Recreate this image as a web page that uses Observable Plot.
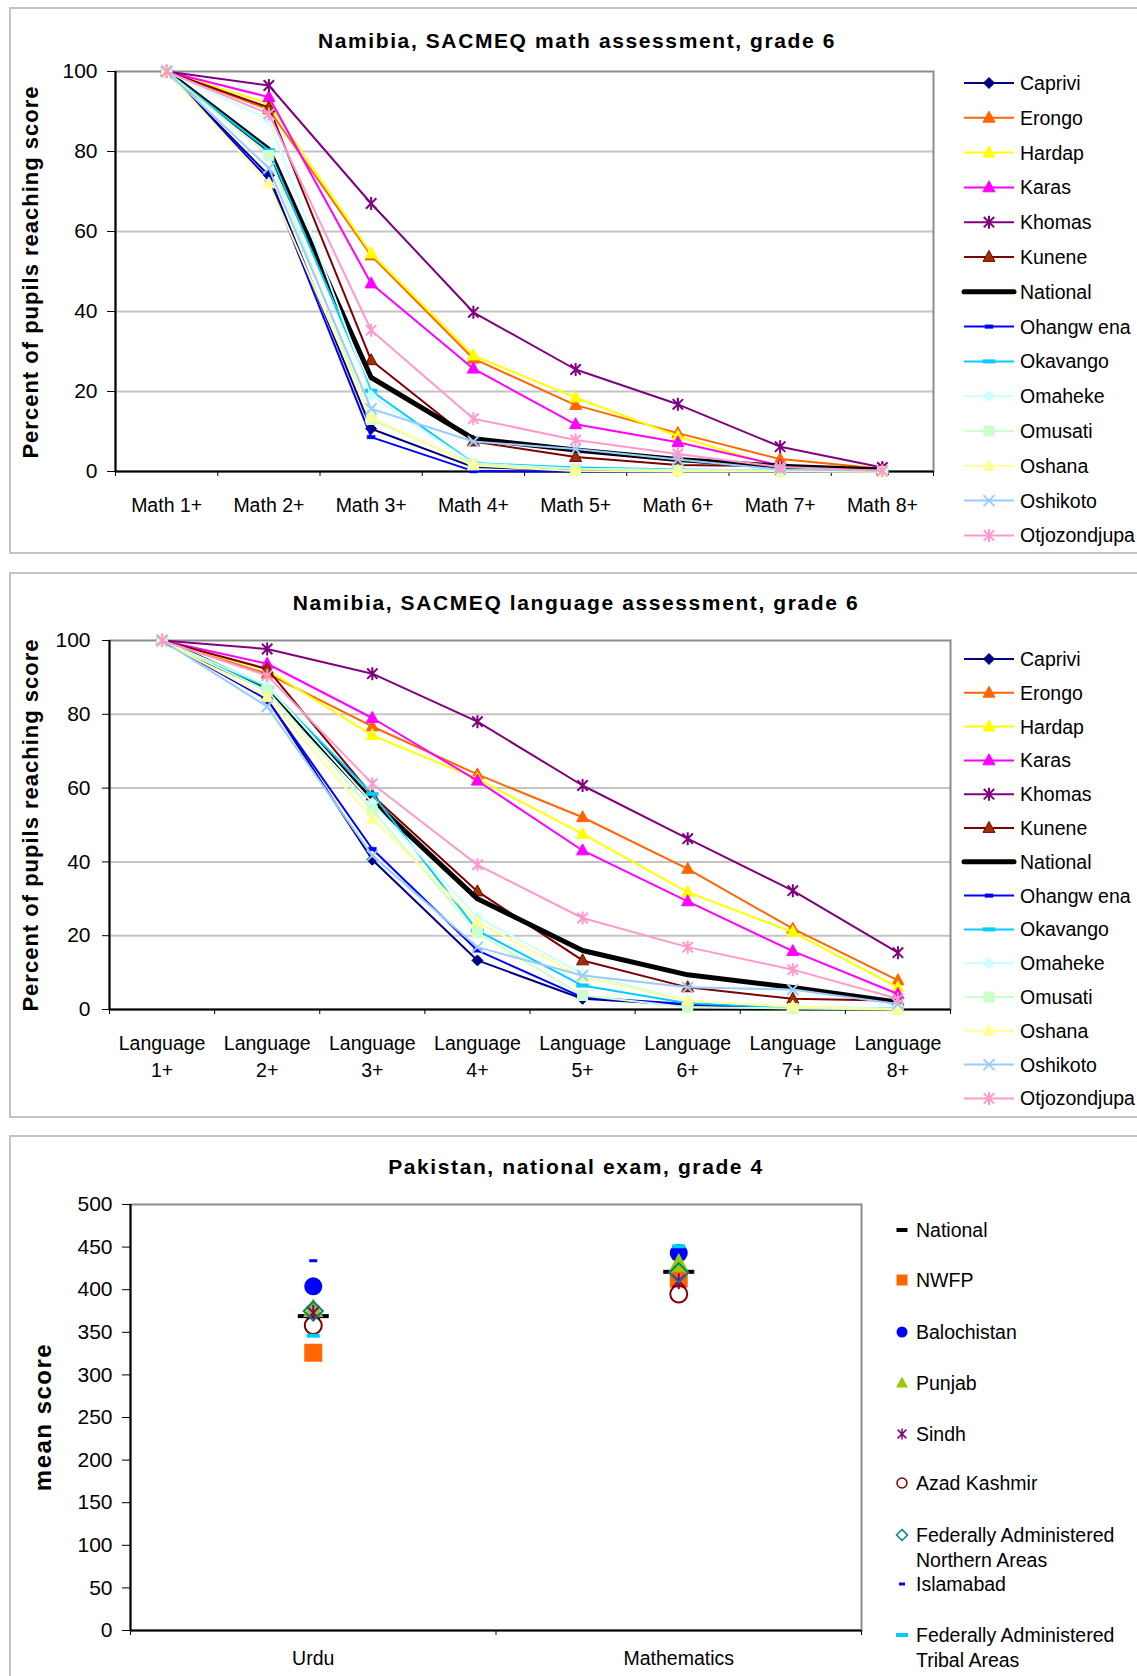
<!DOCTYPE html>
<html>
<head>
<meta charset="utf-8">
<script src="https://cdn.jsdelivr.net/npm/d3@7"></script>
<script src="https://cdn.jsdelivr.net/npm/@observablehq/plot@0.6"></script>
<style>
  html, body { margin: 0; padding: 0; background: #fff; }
  #page { position: relative; width: 1137px; height: 1676px; overflow: hidden; font-family: "Liberation Sans", Arial, sans-serif; color: #000; }
  .panel { position: absolute; box-sizing: border-box; border: 2px solid #c4c4c4; background: #fff; }
  .title { position: absolute; transform: translate(-50%, -50%); font-weight: bold; font-size: 21px; letter-spacing: 1.6px; white-space: nowrap; }
  .ylabel { position: absolute; transform: translate(-50%, -50%) rotate(-90deg); font-weight: bold; font-size: 22px; letter-spacing: 1px; white-space: nowrap; z-index: 5; }
  .plotbox { position: absolute; left: 0; }
  .plotbox svg { max-width: none !important; display: block; }
</style>
</head>
<body>
<div id="page">
  <div class="panel" style="left:9px;top:7px;width:1200px;height:547px"></div>
  <div class="panel" style="left:9px;top:572px;width:1200px;height:546px"></div>
  <div class="panel" style="left:9px;top:1135px;width:1200px;height:600px"></div>
  <div class="title" style="left:577px;top:41px">Namibia, SACMEQ math assessment, grade 6</div>
  <div class="title" style="left:576px;top:603px">Namibia, SACMEQ language assessment, grade 6</div>
  <div class="title" style="left:576px;top:1167px">Pakistan, national exam, grade 4</div>
  <div class="plotbox" id="c1" style="top:0px"></div>
  <div class="plotbox" id="c2" style="top:573px"></div>
  <div class="plotbox" id="c3" style="top:1136px"></div>
  <div class="ylabel" style="left:31px;top:272px">Percent of pupils reaching score</div>
  <div class="ylabel" style="left:31px;top:825px">Percent of pupils reaching score</div>
  <div class="ylabel" style="left:43px;top:1417px;font-size:24px;letter-spacing:1.5px">mean score</div>
</div>
<script>
// ---------------- DATA ----------------
const regions = ["Caprivi", "Erongo", "Hardap", "Karas", "Khomas", "Kunene", "National",
  "Ohangw ena", "Okavango", "Omaheke", "Omusati", "Oshana", "Oshikoto", "Otjozondjupa"];

const mathCategories = ["Math 1+", "Math 2+", "Math 3+", "Math 4+", "Math 5+", "Math 6+", "Math 7+", "Math 8+"];
// percent of pupils reaching each math level, one row per region (same order as regions)
const mathPercent = [
  [100, 74.0, 10.7, 1.1, 0.3, 0.2, 0.1, 0.0],   // Caprivi
  [100, 90.5, 54.0, 28.2, 16.6, 9.6, 3.1, 0.7], // Erongo
  [100, 92.0, 54.5, 29.0, 18.5, 8.8, 1.0, 0.2], // Hardap
  [100, 93.6, 47.0, 25.7, 11.8, 7.3, 1.5, 0.3], // Karas
  [100, 96.5, 67.0, 39.8, 25.5, 16.8, 6.2, 1.0],// Khomas
  [100, 91.0, 27.8, 7.5, 3.6, 1.6, 1.3, 0.3],   // Kunene
  [100, 80.5, 23.5, 8.2, 5.4, 3.0, 1.3, 0.4],   // National
  [100, 73.0, 8.6, 0.1, 0.0, 0.0, 0.0, 0.0],    // Ohangwena
  [100, 80.3, 20.2, 2.1, 1.0, 0.5, 0.2, 0.0],   // Okavango
  [100, 88.0, 19.0, 2.0, 0.7, 0.4, 0.2, 0.0],   // Omaheke
  [100, 79.0, 13.0, 1.9, 0.6, 0.3, 0.1, 0.0],   // Omusati
  [100, 72.0, 13.5, 1.5, 0.1, 0.0, 0.0, 0.0],   // Oshana
  [100, 75.8, 15.7, 7.5, 5.6, 3.0, 0.5, 0.2],   // Oshikoto
  [100, 89.4, 35.3, 13.2, 7.9, 4.4, 1.1, 0.2]   // Otjozondjupa
];

const languageCategories = ["Language\n1+", "Language\n2+", "Language\n3+", "Language\n4+",
  "Language\n5+", "Language\n6+", "Language\n7+", "Language\n8+"];
const languagePercent = [
  [100, 84.2, 40.6, 13.3, 2.9, 1.2, 0.4, 0.1],    // Caprivi
  [100, 91.0, 76.7, 63.7, 52.1, 38.1, 21.9, 7.9], // Erongo
  [100, 92.0, 74.3, 62.5, 47.6, 31.8, 21.0, 6.0], // Hardap
  [100, 93.7, 79.0, 62.0, 43.1, 29.3, 15.8, 4.2], // Karas
  [100, 97.7, 91.0, 78.0, 60.7, 46.3, 32.2, 15.4],// Khomas
  [100, 92.3, 58.0, 32.0, 13.3, 6.0, 2.9, 2.4],   // Kunene
  [100, 87.0, 56.6, 30.0, 16.0, 9.4, 6.0, 2.0],   // National
  [100, 84.0, 43.5, 16.0, 3.3, 1.5, 0.5, 0.2],    // Ohangwena
  [100, 87.3, 58.4, 21.4, 6.5, 1.7, 0.6, 0.3],    // Okavango
  [100, 87.8, 56.0, 25.0, 9.7, 2.4, 0.7, 0.3],    // Omaheke
  [100, 86.4, 54.0, 20.8, 3.8, 0.6, 0.3, 0.0],    // Omusati
  [100, 84.6, 51.7, 23.7, 8.8, 2.4, 0.8, 0.0],    // Oshana
  [100, 82.1, 41.7, 16.9, 9.2, 6.0, 5.4, 1.5],    // Oshikoto
  [100, 90.5, 61.2, 39.2, 24.8, 16.9, 10.8, 2.9]  // Otjozondjupa
];

const subjects = ["Urdu", "Mathematics"];
const provinces = ["National", "NWFP", "Balochistan", "Punjab", "Sindh", "Azad Kashmir",
  "Federally Administered Northern Areas", "Islamabad", "Federally Administered Tribal Areas"];
const urduMeanScore = [369, 326, 404, 377, 373, 358, 375, 434, 346];
const mathMeanScore = [421, 413, 443, 430, 410, 395, 420, 448, 451];
const provinceLegendLabels = ["National", "NWFP", "Balochistan", "Punjab", "Sindh", "Azad Kashmir",
  "Federally Administered\nNorthern Areas", "Islamabad", "Federally Administered\nTribal Areas"];

const yTicksPercent = [0, 20, 40, 60, 80, 100];
const yTicksScore = [0, 50, 100, 150, 200, 250, 300, 350, 400, 450, 500];

// ---------------- STYLES ----------------
const FONT = '"Liberation Sans", Arial, sans-serif';
const sym = {
  diamond: s => ({draw(c) { c.moveTo(0, -s); c.lineTo(s, 0); c.lineTo(0, s); c.lineTo(-s, 0); c.closePath(); }}),
  triangle: (w, h) => ({draw(c) { c.moveTo(0, -h * 0.6); c.lineTo(w / 2, h * 0.4); c.lineTo(-w / 2, h * 0.4); c.closePath(); }}),
  square: s => ({draw(c) { c.rect(-s / 2, -s / 2, s, s); }}),
  dash: (w, h) => ({draw(c) { c.rect(-w / 2, -h / 2, w, h); }}),
  times: s => ({draw(c) { c.moveTo(-s, -s); c.lineTo(s, s); c.moveTo(-s, s); c.lineTo(s, -s); }}),
  star: s => ({draw(c) { const d = s * 0.8; c.moveTo(0, -s); c.lineTo(0, s); c.moveTo(-d, -d); c.lineTo(d, d); c.moveTo(-d, d); c.lineTo(d, -d); }}),
  circle: r => ({draw(c) { c.moveTo(r, 0); c.arc(0, 0, r, 0, 2 * Math.PI); }})
};
const tri = sym.triangle(12, 11);
const regionStyles = [
  {color: "#000080", lw: 2, symbol: sym.diamond(5.5), fill: "#000080", stroke: "#000080", sw: 1},
  {color: "#FF6600", lw: 2, symbol: tri, fill: "#FF6600", stroke: "#FF6600", sw: 1},
  {color: "#FFFF00", lw: 2, symbol: tri, fill: "#FFFF00", stroke: "#FFFF00", sw: 1},
  {color: "#FF00FF", lw: 2, symbol: tri, fill: "#FF00FF", stroke: "#FF00FF", sw: 1},
  {color: "#800080", lw: 2, symbol: sym.star(6.5), fill: "none", stroke: "#800080", sw: 2},
  {color: "#800000", lw: 2, symbol: tri, fill: "#993300", stroke: "#800000", sw: 1},
  {color: "#000000", lw: 5, symbol: null},
  {color: "#0000FF", lw: 2, symbol: sym.dash(8, 3.5), fill: "#0000FF", stroke: "#0000FF", sw: 0.5},
  {color: "#00CCFF", lw: 2, symbol: sym.dash(12, 3.5), fill: "#00CCFF", stroke: "#00CCFF", sw: 0.5},
  {color: "#CCFFFF", lw: 2, symbol: sym.diamond(5.5), fill: "#CCFFFF", stroke: "#CCFFFF", sw: 1},
  {color: "#CCFFCC", lw: 2, symbol: sym.square(10), fill: "#CCFFCC", stroke: "#CCFFCC", sw: 1},
  {color: "#FFFF99", lw: 2, symbol: tri, fill: "#FFFF99", stroke: "#FFFF99", sw: 1},
  {color: "#99CCFF", lw: 2, symbol: sym.times(5.5), fill: "none", stroke: "#99CCFF", sw: 2},
  {color: "#FF99CC", lw: 2, symbol: sym.star(6.5), fill: "none", stroke: "#FF99CC", sw: 2}
];
const provinceStyles = [
  {symbol: sym.dash(31, 4), fill: "#000000", stroke: "none", sw: 0},
  {symbol: sym.square(18), fill: "#FF6600", stroke: "none", sw: 0},
  {symbol: sym.circle(9), fill: "#0000FF", stroke: "none", sw: 0},
  {symbol: sym.triangle(20, 19), fill: "#99CC00", stroke: "none", sw: 0},
  {symbol: sym.star(8), fill: "none", stroke: "#800080", sw: 2},
  {symbol: sym.circle(8.5), fill: "none", stroke: "#800000", sw: 2},
  {symbol: sym.diamond(9.5), fill: "none", stroke: "#008080", sw: 2},
  {symbol: sym.dash(8, 3), fill: "#0000FF", stroke: "none", sw: 0},
  {symbol: sym.dash(13, 4), fill: "#00CCFF", stroke: "none", sw: 0}
];
const provinceLegendSymbols = [
  sym.dash(11, 4), sym.square(11), sym.circle(5.5), sym.triangle(12, 11), sym.star(5.5),
  sym.circle(5), sym.diamond(5.5), sym.dash(6, 3), sym.dash(12, 4)
];

// ---------------- CHARTS ----------------
function namibiaChart(categories, values, o) {
  const n = categories.length;
  const rows = regions.flatMap((region, i) => values[i].map((v, j) => ({region, k: j + 1, v})));
  const marks = [
    Plot.ruleY(yTicksPercent.filter(t => t > 0 && t < 100), {stroke: "#c4c4c4", strokeWidth: 2}),
    Plot.frame({stroke: "#8c8c8c", strokeWidth: 2}),
    Plot.axisY({ticks: yTicksPercent, tickSize: o.yTickSize, tickPadding: o.yTickPadding, fontSize: 21, label: null}),
    Plot.axisX({ticks: d3.range(0.5, n + 1, 1), tickFormat: () => "", tickSize: 5, label: null}),
    Plot.axisX({ticks: d3.range(1, n + 1), tickFormat: k => categories[k - 1], tickSize: 0, tickPadding: 22, fontSize: 19.5, lineHeight: 1.35, label: null}),
    Plot.ruleX([0.5], {stroke: "#000", strokeWidth: 2}),
    Plot.ruleY([0], {stroke: "#000", strokeWidth: 2})
  ];
  regions.forEach((region, i) => {
    const s = regionStyles[i];
    const d = rows.filter(r => r.region === region);
    marks.push(Plot.line(d, {x: "k", y: "v", stroke: s.color, strokeWidth: s.lw, strokeLinejoin: "round"}));
    if (s.symbol) marks.push(Plot.dot(d, {x: "k", y: "v", symbol: s.symbol, r: 5, fill: s.fill, stroke: s.stroke, strokeWidth: s.sw}));
  });
  return Plot.plot({
    width: o.width, height: o.height,
    marginLeft: o.marginLeft, marginRight: o.width - o.plotRight,
    marginTop: o.marginTop, marginBottom: o.marginBottom,
    style: {background: "transparent", fontFamily: FONT, overflow: "visible", color: "#000"},
    x: {type: "linear", domain: [0.5, n + 0.5]},
    y: {type: "linear", domain: [0, 100]},
    marks
  });
}

document.getElementById("c1").appendChild(namibiaChart(mathCategories, mathPercent, {
  width: 950, height: 553, marginLeft: 115, plotRight: 933, marginTop: 71, marginBottom: 82,
  yTickSize: 8, yTickPadding: 10
}));
document.getElementById("c2").appendChild(namibiaChart(languageCategories, languagePercent, {
  width: 960, height: 544, marginLeft: 109, plotRight: 950, marginTop: 67, marginBottom: 108,
  yTickSize: 7, yTickPadding: 12
}));

// Pakistan chart
const pkRows = provinces.flatMap((p, i) => [
  {province: p, k: 1, v: urduMeanScore[i]},
  {province: p, k: 2, v: mathMeanScore[i]}
]);
const pkMarks = [
  Plot.frame({stroke: "#8c8c8c", strokeWidth: 2}),
  Plot.axisY({ticks: yTicksScore, tickSize: 8, tickPadding: 10, fontSize: 21, label: null}),
  Plot.axisX({ticks: [0.5, 1.5, 2.5], tickFormat: () => "", tickSize: 5, label: null}),
  Plot.axisX({ticks: [1, 2], tickFormat: k => subjects[k - 1], tickSize: 0, tickPadding: 21, fontSize: 19.5, label: null}),
  Plot.ruleX([0.5], {stroke: "#000", strokeWidth: 2}),
  Plot.ruleY([0], {stroke: "#000", strokeWidth: 2})
];
provinces.forEach((p, i) => {
  const s = provinceStyles[i];
  pkMarks.push(Plot.dot(pkRows.filter(r => r.province === p), {x: "k", y: "v", symbol: s.symbol, r: 5, fill: s.fill, stroke: s.stroke, strokeWidth: s.sw}));
});
document.getElementById("c3").appendChild(Plot.plot({
  width: 880, height: 540, marginLeft: 130, marginRight: 19, marginTop: 68, marginBottom: 46,
  style: {background: "transparent", fontFamily: FONT, overflow: "visible", color: "#000"},
  x: {type: "linear", domain: [0.5, 2.5]},
  y: {type: "linear", domain: [0, 500]},
  marks: pkMarks
}));

// ---------------- LEGENDS ----------------
const legendSvg = d3.select("#page").append("svg")
  .attr("width", 1137).attr("height", 1676)
  .style("position", "absolute").style("left", "0px").style("top", "0px")
  .style("font-family", FONT).style("pointer-events", "none");

function namibiaLegend(y0, step) {
  regions.forEach((name, i) => {
    const s = regionStyles[i];
    const y = y0 + step * i;
    const g = legendSvg.append("g");
    g.append("line").attr("x1", 964).attr("x2", 1014).attr("y1", y).attr("y2", y)
      .attr("stroke", s.color).attr("stroke-width", s.lw).attr("stroke-linecap", s.lw > 3 ? "round" : "butt");
    if (s.symbol) g.append("path").attr("transform", `translate(989,${y})`).attr("d", d3.symbol(s.symbol)())
      .attr("fill", s.fill).attr("stroke", s.stroke).attr("stroke-width", s.sw);
    g.append("text").attr("x", 1020).attr("y", y).attr("dy", "0.36em").attr("font-size", 19.5).text(name);
  });
}
namibiaLegend(83, 34.8);
namibiaLegend(659, 33.8);

const pkLegendY = [1230, 1280, 1332, 1383, 1434, 1483, 1535, 1584, 1635];
provinceLegendLabels.forEach((label, i) => {
  const s = provinceStyles[i];
  const y = pkLegendY[i];
  const g = legendSvg.append("g");
  g.append("path").attr("transform", `translate(902,${y})`).attr("d", d3.symbol(provinceLegendSymbols[i])())
    .attr("fill", s.fill).attr("stroke", s.stroke).attr("stroke-width", s.sw ? 1.5 : 0);
  label.split("\n").forEach((line, j) => {
    g.append("text").attr("x", 916).attr("y", y + j * 25).attr("dy", "0.36em").attr("font-size", 19.5).text(line);
  });
});
</script>
</body>
</html>
